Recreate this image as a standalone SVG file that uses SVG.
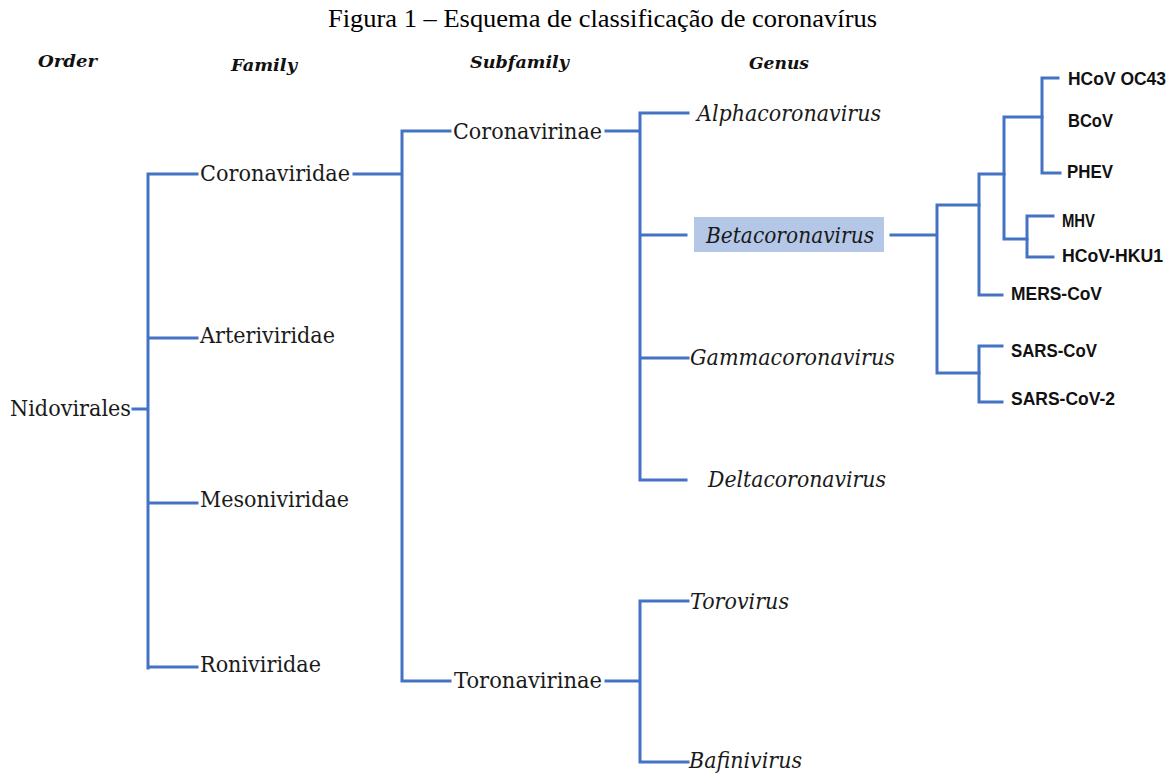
<svg xmlns="http://www.w3.org/2000/svg" width="1175" height="774" viewBox="0 0 1175 774">
<style>
.ln{stroke:#4472c4;stroke-width:3;fill:none;stroke-linecap:square}
.t{font-family:"DejaVu Serif","Liberation Serif",serif;font-size:22px;fill:#1a1a1a}
.i{font-family:"DejaVu Serif","Liberation Serif",serif;font-size:22px;font-style:italic;fill:#1a1a1a}
.h{font-family:"DejaVu Serif","Liberation Serif",serif;font-size:17px;font-style:italic;font-weight:bold;fill:#111}
.s{font-family:"Liberation Sans","Arial",sans-serif;font-size:17.5px;font-weight:bold;fill:#111}
.title{font-family:"Liberation Serif","Times New Roman",serif;font-size:26px;fill:#000}
</style>
<rect width="1175" height="774" fill="#fff"/>
<text class="title" x="328" y="27" textLength="549" lengthAdjust="spacingAndGlyphs">Figura 1 – Esquema de classificação de coronavírus</text>
<g id="headers">
<text class="h" x="38" y="67" textLength="59" lengthAdjust="spacingAndGlyphs">Order</text>
<text class="h" x="231" y="71" textLength="66" lengthAdjust="spacingAndGlyphs">Family</text>
<text class="h" x="470" y="68" textLength="99" lengthAdjust="spacingAndGlyphs">Subfamily</text>
<text class="h" x="749" y="69" textLength="60" lengthAdjust="spacingAndGlyphs">Genus</text>
</g>
<g id="connectors">
<path class="ln" d="M133 409H148M148 174V668M148 174H197M148 338H197M148 503H197M148 667H197"/>
<path class="ln" d="M354 174H402M402 131V681M402 131H450M402 681H450"/>
<path class="ln" d="M606 131H640M640 113V480M640 113H688M640 235H686M640 358H688M640 480H686"/>
<path class="ln" d="M606 681H640M640 601V762M640 601H688M640 762H688"/>
<path class="ln" d="M891 235H937M937 205V373M937 205H979M937 373H979"/>
<path class="ln" d="M979 174V295M979 174H1004M979 295H1002"/>
<path class="ln" d="M1004 117V239M1004 117H1042M1004 239H1027"/>
<path class="ln" d="M1042 78V173M1042 78H1058M1042 173H1060"/>
<path class="ln" d="M1027 216V257M1027 216H1053M1027 257H1053"/>
<path class="ln" d="M979 346V402M979 346H1002M979 402H1002"/>
</g>
<g id="n-nidovirales"><text class="t" x="10" y="416" textLength="121" lengthAdjust="spacingAndGlyphs">Nidovirales</text></g>
<g id="n-coronaviridae"><text class="t" x="200" y="181" textLength="150" lengthAdjust="spacingAndGlyphs">Coronaviridae</text></g>
<g id="n-arteriviridae"><text class="t" x="200" y="343" textLength="135" lengthAdjust="spacingAndGlyphs">Arteriviridae</text></g>
<g id="n-mesoniviridae"><text class="t" x="200" y="507" textLength="149" lengthAdjust="spacingAndGlyphs">Mesoniviridae</text></g>
<g id="n-roniviridae"><text class="t" x="200" y="672" textLength="121" lengthAdjust="spacingAndGlyphs">Roniviridae</text></g>
<g id="n-coronavirinae"><text class="t" x="453" y="139" textLength="149" lengthAdjust="spacingAndGlyphs">Coronavirinae</text></g>
<g id="n-toronavirinae"><text class="t" x="454" y="688" textLength="148" lengthAdjust="spacingAndGlyphs">Toronavirinae</text></g>
<g id="n-alpha"><text class="i" x="697" y="121" textLength="184" lengthAdjust="spacingAndGlyphs">Alphacoronavirus</text></g>
<g id="n-beta"><rect x="694" y="217" width="190" height="35" fill="#b4c7e7"/><text class="i" x="706" y="243" textLength="168" lengthAdjust="spacingAndGlyphs">Betacoronavirus</text></g>
<g id="n-gamma"><text class="i" x="690" y="365" textLength="205" lengthAdjust="spacingAndGlyphs">Gammacoronavirus</text></g>
<g id="n-delta"><text class="i" x="708" y="487" textLength="178" lengthAdjust="spacingAndGlyphs">Deltacoronavirus</text></g>
<g id="n-torovirus"><text class="i" x="690" y="609" textLength="99" lengthAdjust="spacingAndGlyphs">Torovirus</text></g>
<g id="n-bafinivirus"><text class="i" x="689" y="768" textLength="113" lengthAdjust="spacingAndGlyphs">Bafinivirus</text></g>
<g id="n-oc43"><text class="s" x="1068" y="85" textLength="98" lengthAdjust="spacingAndGlyphs">HCoV OC43</text></g>
<g id="n-bcov"><text class="s" x="1068" y="127" textLength="45" lengthAdjust="spacingAndGlyphs">BCoV</text></g>
<g id="n-phev"><text class="s" x="1067" y="178" textLength="46" lengthAdjust="spacingAndGlyphs">PHEV</text></g>
<g id="n-mhv"><text class="s" x="1062" y="227" textLength="33" lengthAdjust="spacingAndGlyphs">MHV</text></g>
<g id="n-hku1"><text class="s" x="1062" y="262" textLength="101" lengthAdjust="spacingAndGlyphs">HCoV-HKU1</text></g>
<g id="n-mers"><text class="s" x="1011" y="300" textLength="91" lengthAdjust="spacingAndGlyphs">MERS-CoV</text></g>
<g id="n-sars"><text class="s" x="1011" y="357" textLength="86" lengthAdjust="spacingAndGlyphs">SARS-CoV</text></g>
<g id="n-sars2"><text class="s" x="1011" y="405" textLength="104" lengthAdjust="spacingAndGlyphs">SARS-CoV-2</text></g>
</svg>
